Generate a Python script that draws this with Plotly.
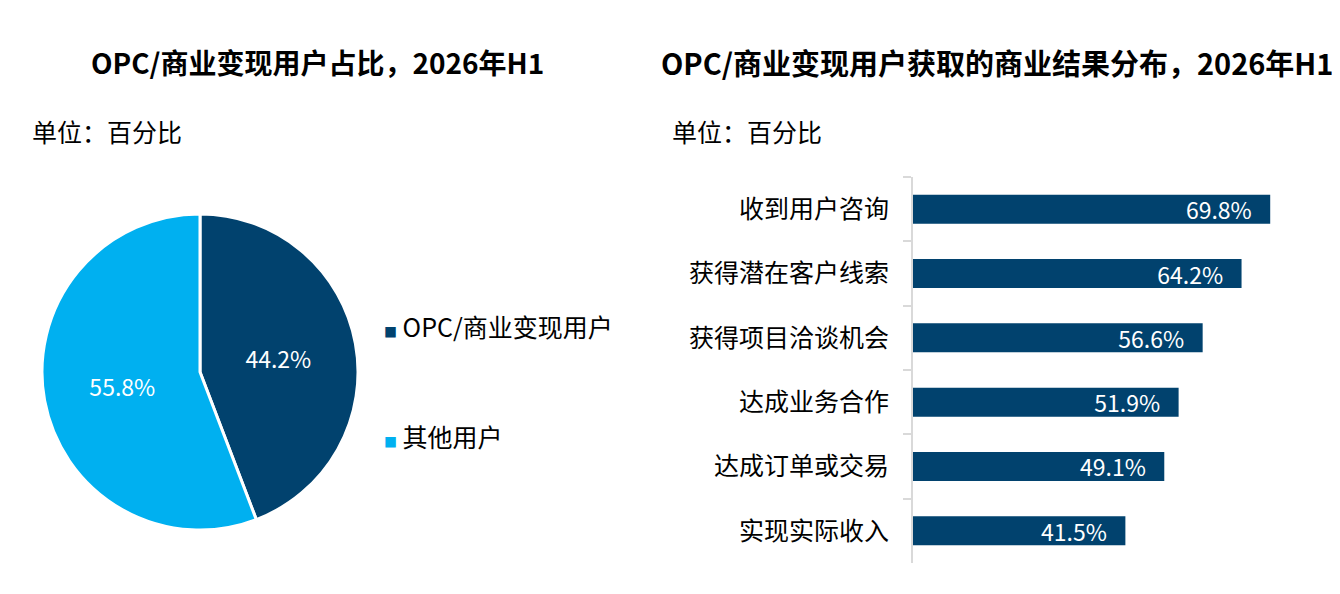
import plotly.graph_objects as go

# ---- data ----
pie_labels = ["OPC/商业变现用户", "其他用户"]
pie_values = [44.2, 55.8]
pie_colors = ["#01426E", "#00B0F0"]

bar_categories = ["收到用户咨询", "获得潜在客户线索", "获得项目洽谈机会", "达成业务合作", "达成订单或交易", "实现实际收入"]
bar_values = [69.8, 64.2, 56.6, 51.9, 49.1, 41.5]
bar_color = "#01426E"

W, H = 1340, 594
OX, OY = 8, 8  # page body margin offset
FONT = "Noto Sans CJK SC"

def px(x):
    return (x - OX) / W

def py(y):
    return 1 - (y - OY) / H

fig = go.Figure()

fig.add_trace(go.Pie(
    labels=pie_labels,
    values=pie_values,
    sort=False,
    direction="clockwise",
    rotation=0,
    marker=dict(colors=pie_colors, line=dict(color="white", width=3)),
    texttemplate="%{value:.1f}%",
    textposition="inside",
    insidetextorientation="horizontal",
    textfont=dict(color="white", size=23, family=FONT),
    domain=dict(x=[px(42), px(358)], y=[py(531), py(213)]),
    showlegend=False,
    hoverinfo="label+percent",
))

fig.add_trace(go.Bar(
    x=bar_values,
    y=bar_categories,
    orientation="h",
    marker=dict(color=bar_color, line=dict(width=0)),
    width=0.45,
    texttemplate="%{x:.1f}%\u00a0\u00a0\u00a0",
    textposition="inside",
    insidetextanchor="end",
    constraintext="none",
    textfont=dict(color="white", size=23, family=FONT),
    xaxis="x",
    yaxis="y",
    showlegend=False,
))

fig.update_layout(
    width=W, height=H,
    margin=dict(l=0, r=0, t=0, b=0),
    paper_bgcolor="white",
    plot_bgcolor="white",
    font=dict(family=FONT, color="black"),
    xaxis=dict(
        domain=[px(913), 1.0],
        range=[0, 85.0],
        visible=False,
        fixedrange=True,
    ),
    yaxis=dict(
        domain=[py(563), py(177)],
        autorange="reversed",
        showline=True,
        linecolor="#D9D9D9",
        linewidth=2,
        ticks="outside",
        tickson="boundaries",
        ticklen=8,
        tickwidth=2,
        tickcolor="#D9D9D9",
        tickfont=dict(size=25, family=FONT, color="black"),
        ticklabelstandoff=17,
        showgrid=False,
        zeroline=False,
    ),
    bargap=0.55,
)

annotations = [
    dict(text="<b>OPC/商业变现用户占比，2026年H1</b>", x=px(317), y=py(62),
         font=dict(size=28, family=FONT, color="black")),
    dict(text="<b>OPC/商业变现用户获取的商业结果分布，2026年H1</b>", x=px(997), y=py(62),
         font=dict(size=29, family=FONT, color="black")),
    dict(text="单位：百分比", x=px(30), y=py(131), xanchor="left",
         font=dict(size=25, family=FONT, color="black")),
    dict(text="单位：百分比", x=px(670), y=py(131), xanchor="left",
         font=dict(size=25, family=FONT, color="black")),
]
legend_y = [326, 436]
for lab, col, yy in zip(pie_labels, pie_colors, legend_y):
    annotations.append(dict(
        text=f"<span style='color:{col};font-size:13px'>■</span> {lab}",
        x=px(382), y=py(yy), xanchor="left",
        font=dict(size=25, family=FONT, color="black"),
    ))
for a in annotations:
    a.update(xref="paper", yref="paper", showarrow=False)
    a.setdefault("xanchor", "center")
    a["yanchor"] = "middle"
fig.update_layout(annotations=annotations)

fig.write_html("out.html")
